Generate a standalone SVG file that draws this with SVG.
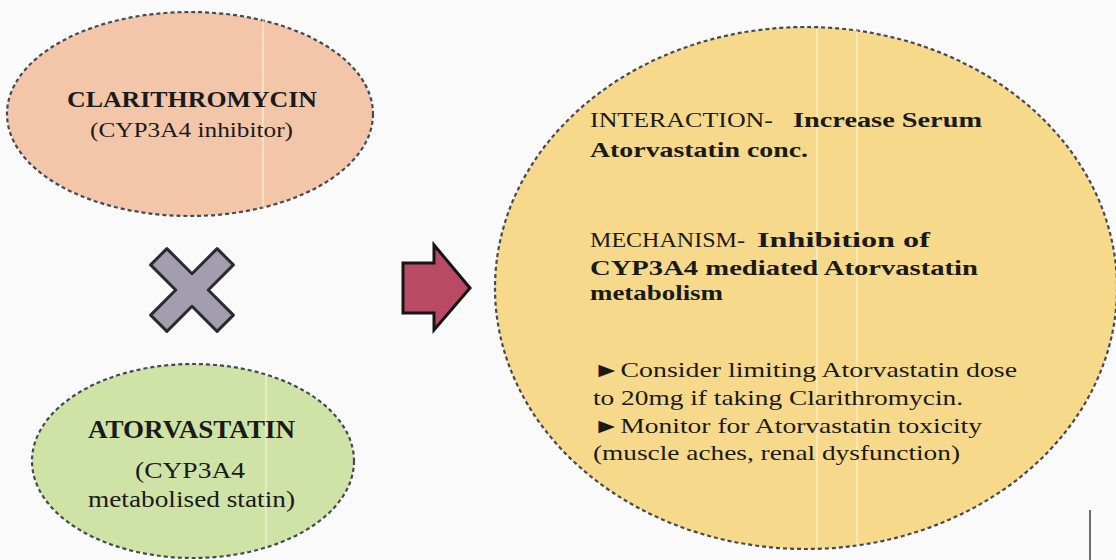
<svg xmlns="http://www.w3.org/2000/svg" width="1116" height="560" viewBox="0 0 1116 560">
<defs>
<style>
.node{stroke:#454954;stroke-width:2.2;stroke-dasharray:4 3}
.t{font-family:"Liberation Serif","Times New Roman",serif;fill:#1a1a1a}
.b{font-weight:bold}
.streak{stroke:#fffbe8;stroke-width:2;opacity:0.45}
</style>
</defs>
<rect width="1116" height="560" fill="#fafafa"/>
<g id="clarithromycin">
<ellipse class="node" cx="190" cy="114" rx="183" ry="102" fill="#f3c6a9"/>
<line class="streak" x1="263" y1="14" x2="263" y2="215"/>
<text class="t b" x="67" y="107" font-size="23" textLength="250" lengthAdjust="spacingAndGlyphs">CLARITHROMYCIN</text>
<text class="t" x="90" y="137" font-size="22" textLength="203" lengthAdjust="spacingAndGlyphs">(CYP3A4 inhibitor)</text>
</g>
<g id="cross">
<polygon transform="translate(192 290) rotate(45)" points="-11.5,-47 11.5,-47 11.5,-11.5 47,-11.5 47,11.5 11.5,11.5 11.5,47 -11.5,47 -11.5,11.5 -47,11.5 -47,-11.5 -11.5,-11.5" fill="#a29ead" stroke="#2a2a30" stroke-width="3" stroke-linejoin="round"/>
</g>
<g id="atorvastatin">
<ellipse class="node" cx="193" cy="461" rx="161" ry="97" fill="#cfe3a6"/>
<line class="streak" x1="266" y1="366" x2="266" y2="556"/>
<text class="t b" x="88" y="438" font-size="25" textLength="207" lengthAdjust="spacingAndGlyphs">ATORVASTATIN</text>
<text class="t" x="135" y="478" font-size="23" textLength="110" lengthAdjust="spacingAndGlyphs">(CYP3A4</text>
<text class="t" x="88" y="507" font-size="23" textLength="207" lengthAdjust="spacingAndGlyphs">metabolised  statin)</text>
</g>
<g id="connectors">
<polygon points="403,263 434,263 434,245 470,288 434,330 434,313 403,313" fill="#b84a63" stroke="#151515" stroke-width="3" stroke-linejoin="miter"/>
</g>
<g id="outcome">
<ellipse class="node" cx="806" cy="288" rx="311" ry="261" fill="#f6d98b"/>
<line class="streak" x1="817" y1="29" x2="817" y2="547"/>
<line class="streak" x1="857" y1="30" x2="857" y2="546"/>
<text class="t" x="590" y="127" font-size="22" textLength="183" lengthAdjust="spacingAndGlyphs">INTERACTION-</text>
<text class="t b" x="793" y="127" font-size="22" textLength="189" lengthAdjust="spacingAndGlyphs">Increase Serum</text>
<text class="t b" x="590" y="157" font-size="22" textLength="218" lengthAdjust="spacingAndGlyphs">Atorvastatin  conc.</text>
<text class="t" x="590" y="247" font-size="22" textLength="155" lengthAdjust="spacingAndGlyphs">MECHANISM-</text>
<text class="t b" x="757" y="247" font-size="22" textLength="173" lengthAdjust="spacingAndGlyphs">Inhibition  of</text>
<text class="t b" x="590" y="275" font-size="22" textLength="388" lengthAdjust="spacingAndGlyphs">CYP3A4 mediated Atorvastatin</text>
<text class="t b" x="590" y="300" font-size="22" textLength="133" lengthAdjust="spacingAndGlyphs">metabolism</text>
<text class="t" x="593" y="377" font-size="21" textLength="424" lengthAdjust="spacingAndGlyphs">►Consider limiting Atorvastatin dose</text>
<text class="t" x="593" y="405" font-size="21" textLength="370" lengthAdjust="spacingAndGlyphs">to 20mg if taking Clarithromycin.</text>
<text class="t" x="593" y="433" font-size="21" textLength="389" lengthAdjust="spacingAndGlyphs">►Monitor for Atorvastatin toxicity</text>
<text class="t" x="593" y="460" font-size="21" textLength="367" lengthAdjust="spacingAndGlyphs">(muscle  aches, renal dysfunction)</text>
</g>
<line x1="1090" y1="510" x2="1090" y2="560" stroke="#6e6e70" stroke-width="2"/>
</svg>
